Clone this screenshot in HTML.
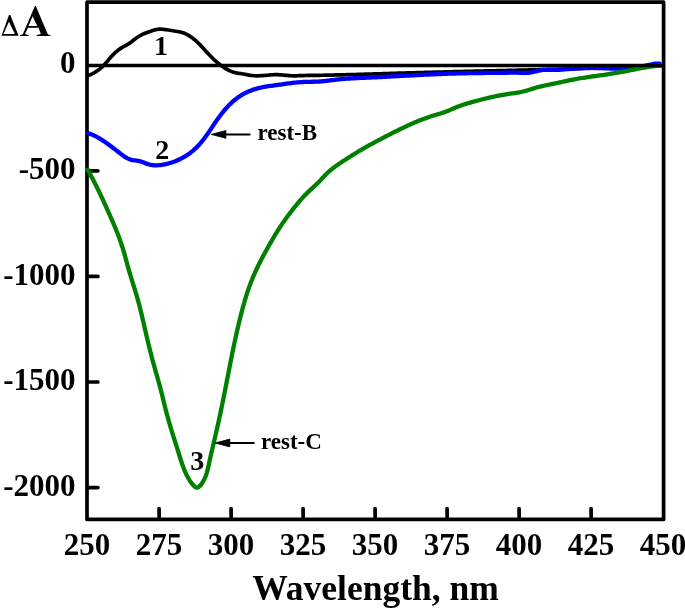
<!DOCTYPE html>
<html><head><meta charset="utf-8"><style>
html,body{margin:0;padding:0;background:#fff;width:685px;height:608px;overflow:hidden}
svg{display:block;will-change:transform}
</style></head><body>
<svg width="685" height="608" viewBox="0 0 685 608">
<line x1="159.1" y1="519" x2="159.1" y2="508.6" stroke="#000" stroke-width="3.7" stroke-linecap="round"/>
<line x1="231.1" y1="519" x2="231.1" y2="508.6" stroke="#000" stroke-width="3.7" stroke-linecap="round"/>
<line x1="303.1" y1="519" x2="303.1" y2="508.6" stroke="#000" stroke-width="3.7" stroke-linecap="round"/>
<line x1="375.1" y1="519" x2="375.1" y2="508.6" stroke="#000" stroke-width="3.7" stroke-linecap="round"/>
<line x1="447.1" y1="519" x2="447.1" y2="508.6" stroke="#000" stroke-width="3.7" stroke-linecap="round"/>
<line x1="519.1" y1="519" x2="519.1" y2="508.6" stroke="#000" stroke-width="3.7" stroke-linecap="round"/>
<line x1="591.1" y1="519" x2="591.1" y2="508.6" stroke="#000" stroke-width="3.7" stroke-linecap="round"/>
<line x1="88" y1="170.8" x2="97.9" y2="170.8" stroke="#000" stroke-width="3.7" stroke-linecap="round"/>
<line x1="88" y1="276.4" x2="97.9" y2="276.4" stroke="#000" stroke-width="3.7" stroke-linecap="round"/>
<line x1="88" y1="382.0" x2="97.9" y2="382.0" stroke="#000" stroke-width="3.7" stroke-linecap="round"/>
<line x1="88" y1="487.6" x2="97.9" y2="487.6" stroke="#000" stroke-width="3.7" stroke-linecap="round"/>
<rect x="87" y="2.2" width="576.6" height="517.2" fill="none" stroke="#000" stroke-width="3.7" stroke-linejoin="round"/>
<path d="M86.49 76.20 L87.97 75.65 L89.41 75.07 L90.81 74.45 L92.18 73.80 L93.51 73.12 L94.81 72.40 L96.07 71.64 L97.29 70.83 L98.48 69.99 L99.63 69.11 L100.75 68.18 L101.84 67.20 L102.89 66.18 L103.92 65.12 L104.92 64.03 L105.91 62.90 L106.89 61.76 L107.87 60.60 L108.85 59.43 L109.85 58.27 L110.87 57.11 L111.92 55.97 L112.99 54.84 L114.09 53.75 L115.22 52.69 L116.36 51.67 L117.52 50.69 L118.70 49.78 L119.89 48.92 L121.08 48.14 L122.29 47.41 L123.49 46.73 L124.71 46.07 L125.93 45.40 L127.16 44.70 L128.39 43.95 L129.63 43.12 L130.88 42.23 L132.14 41.28 L133.41 40.31 L134.68 39.33 L135.96 38.36 L137.25 37.43 L138.55 36.56 L139.86 35.77 L141.18 35.05 L142.50 34.39 L143.84 33.79 L145.18 33.22 L146.54 32.68 L147.91 32.16 L149.29 31.65 L150.68 31.14 L152.09 30.66 L153.50 30.21 L154.93 29.83 L156.38 29.53 L157.83 29.32 L159.30 29.21 L160.79 29.20 L162.28 29.27 L163.78 29.39 L165.28 29.56 L166.79 29.77 L168.30 29.99 L169.81 30.23 L171.31 30.48 L172.82 30.73 L174.31 30.99 L175.80 31.24 L177.28 31.49 L178.74 31.75 L180.19 32.05 L181.62 32.40 L183.04 32.82 L184.43 33.32 L185.80 33.91 L187.15 34.58 L188.47 35.31 L189.76 36.11 L191.02 36.96 L192.25 37.85 L193.44 38.77 L194.60 39.72 L195.73 40.70 L196.84 41.70 L197.92 42.72 L198.97 43.77 L200.01 44.82 L201.04 45.90 L202.06 46.98 L203.07 48.07 L204.08 49.17 L205.08 50.28 L206.09 51.39 L207.11 52.50 L208.13 53.60 L209.17 54.70 L210.23 55.80 L211.29 56.89 L212.38 57.96 L213.47 59.02 L214.58 60.07 L215.71 61.09 L216.85 62.10 L218.01 63.08 L219.19 64.04 L220.38 64.97 L221.60 65.87 L222.83 66.74 L224.07 67.57 L225.34 68.37 L226.63 69.13 L227.93 69.84 L229.26 70.51 L230.60 71.11 L231.96 71.65 L233.33 72.12 L234.72 72.52 L236.12 72.84 L237.54 73.10 L238.97 73.32 L240.41 73.53 L241.86 73.74 L243.32 73.97 L244.79 74.24 L246.27 74.52 L247.75 74.81 L249.24 75.09 L250.74 75.33 L252.25 75.53 L253.75 75.67 L255.26 75.76 L256.78 75.80 L258.29 75.80 L259.80 75.77 L261.32 75.70 L262.83 75.60 L264.35 75.49 L265.86 75.35 L267.37 75.22 L268.88 75.08 L270.39 74.96 L271.90 74.84 L273.40 74.76 L274.91 74.70 L276.42 74.68 L277.92 74.71 L279.42 74.78 L280.93 74.88 L282.43 75.01 L283.93 75.16 L285.43 75.30 L286.93 75.45 L288.43 75.58 L289.93 75.69 L291.43 75.77 L292.93 75.81 L294.43 75.81 L295.92 75.78 L297.42 75.73 L298.92 75.68 L300.42 75.62 L301.91 75.57 L303.41 75.53 L304.90 75.50 L306.40 75.47 L307.90 75.44 L309.39 75.42 L310.89 75.40 L312.38 75.38 L313.88 75.37 L315.38 75.35 L316.87 75.33 L318.37 75.31 L319.86 75.28 L321.36 75.26 L322.86 75.24 L324.35 75.21 L325.85 75.18 L327.35 75.16 L328.84 75.13 L330.34 75.10 L331.84 75.07 L333.34 75.04 L334.83 75.00 L336.33 74.97 L337.83 74.94 L339.33 74.90 L340.82 74.87 L342.32 74.83 L343.82 74.80 L345.32 74.76 L346.81 74.72 L348.31 74.68 L349.81 74.64 L351.31 74.60 L352.81 74.56 L354.31 74.52 L355.80 74.48 L357.30 74.44 L358.80 74.40 L360.30 74.36 L361.80 74.31 L363.30 74.27 L364.80 74.22 L366.30 74.18 L367.80 74.14 L369.30 74.09 L370.79 74.05 L372.29 74.00 L373.79 73.96 L375.29 73.91 L376.79 73.86 L378.29 73.82 L379.79 73.77 L381.29 73.73 L382.79 73.68 L384.29 73.63 L385.79 73.59 L387.29 73.54 L388.79 73.50 L390.29 73.45 L391.79 73.40 L393.29 73.36 L394.79 73.31 L396.29 73.27 L397.79 73.22 L399.29 73.18 L400.80 73.13 L402.30 73.09 L403.80 73.04 L405.30 73.00 L406.80 72.95 L408.30 72.91 L409.80 72.87 L411.30 72.82 L412.80 72.78 L414.30 72.74 L415.80 72.70 L417.31 72.66 L418.81 72.61 L420.31 72.57 L421.81 72.53 L423.31 72.49 L424.81 72.45 L426.31 72.41 L427.82 72.37 L429.32 72.33 L430.82 72.29 L432.32 72.25 L433.82 72.21 L435.32 72.17 L436.83 72.13 L438.33 72.10 L439.83 72.06 L441.33 72.02 L442.83 71.98 L444.33 71.94 L445.84 71.91 L447.34 71.87 L448.84 71.83 L450.34 71.79 L451.84 71.76 L453.35 71.72 L454.85 71.68 L456.35 71.65 L457.85 71.61 L459.36 71.58 L460.86 71.54 L462.36 71.50 L463.86 71.47 L465.36 71.43 L466.87 71.40 L468.37 71.36 L469.87 71.32 L471.37 71.29 L472.88 71.25 L474.38 71.22 L475.88 71.18 L477.38 71.15 L478.89 71.11 L480.39 71.08 L481.89 71.04 L483.39 71.01 L484.90 70.97 L486.40 70.94 L487.90 70.90 L489.40 70.87 L490.91 70.83 L492.41 70.80 L493.91 70.76 L495.41 70.73 L496.91 70.69 L498.42 70.66 L499.92 70.62 L501.42 70.59 L502.92 70.55 L504.43 70.52 L505.93 70.48 L507.43 70.45 L508.93 70.41 L510.44 70.38 L511.94 70.34 L513.44 70.31 L514.94 70.27 L516.45 70.24 L517.95 70.20 L519.45 70.17 L520.95 70.13 L522.46 70.09 L523.96 70.06 L525.46 70.02 L526.96 69.99 L528.47 69.95 L529.97 69.91 L531.47 69.88 L532.97 69.84 L534.47 69.80 L535.98 69.77 L537.48 69.73 L538.98 69.69 L540.48 69.65 L541.99 69.62 L543.49 69.58 L544.99 69.54 L546.49 69.50 L547.99 69.47 L549.50 69.43 L551.00 69.39 L552.50 69.35 L554.00 69.31 L555.50 69.27 L557.00 69.23 L558.51 69.19 L560.01 69.15 L561.51 69.11 L563.01 69.07 L564.51 69.03 L566.02 68.99 L567.52 68.95 L569.02 68.91 L570.52 68.86 L572.02 68.82 L573.52 68.78 L575.02 68.74 L576.53 68.69 L578.03 68.65 L579.53 68.61 L581.03 68.56 L582.53 68.52 L584.03 68.48 L585.53 68.43 L587.03 68.39 L588.53 68.34 L590.03 68.29 L591.54 68.25 L593.04 68.20 L594.54 68.16 L596.04 68.11 L597.54 68.06 L599.04 68.01 L600.54 67.96 L602.04 67.92 L603.54 67.87 L605.04 67.82 L606.54 67.77 L608.04 67.72 L609.54 67.67 L611.04 67.62 L612.54 67.56 L614.04 67.51 L615.54 67.46 L617.04 67.41 L618.54 67.35 L620.04 67.30 L621.54 67.25 L623.04 67.19 L624.54 67.14 L626.04 67.08 L627.54 67.03 L629.04 66.97 L630.53 66.91 L632.03 66.86 L633.53 66.80 L635.03 66.74 L636.53 66.68 L638.03 66.62 L639.53 66.56 L641.03 66.50 L642.52 66.44 L644.02 66.38 L645.52 66.32 L647.02 66.25 L648.52 66.19 L650.02 66.13 L651.51 66.06 L653.01 66.00 L654.51 65.93 L656.01 65.87 L657.50 65.80 L659.00 65.73 L660.50 65.67 L662.00 65.60" fill="none" stroke="#000" stroke-width="3.7" stroke-linejoin="round" stroke-linecap="butt"/>
<path d="M86.50 132.89 L87.98 133.22 L89.42 133.62 L90.84 134.09 L92.23 134.63 L93.60 135.22 L94.95 135.86 L96.28 136.55 L97.58 137.27 L98.87 138.03 L100.15 138.81 L101.40 139.61 L102.65 140.42 L103.88 141.24 L105.11 142.08 L106.32 142.93 L107.53 143.79 L108.74 144.66 L109.94 145.54 L111.13 146.43 L112.33 147.33 L113.53 148.24 L114.73 149.16 L115.93 150.09 L117.15 151.03 L118.36 151.97 L119.59 152.92 L120.82 153.87 L122.07 154.82 L123.33 155.74 L124.60 156.62 L125.88 157.44 L127.18 158.18 L128.49 158.83 L129.81 159.38 L131.15 159.80 L132.50 160.08 L133.87 160.27 L135.25 160.42 L136.64 160.57 L138.04 160.78 L139.46 161.09 L140.89 161.52 L142.33 162.02 L143.78 162.56 L145.24 163.12 L146.70 163.64 L148.17 164.12 L149.65 164.53 L151.13 164.87 L152.62 165.11 L154.10 165.26 L155.59 165.32 L157.08 165.31 L158.57 165.22 L160.05 165.08 L161.54 164.88 L163.02 164.64 L164.49 164.36 L165.97 164.05 L167.43 163.70 L168.89 163.31 L170.33 162.89 L171.77 162.44 L173.20 161.95 L174.62 161.44 L176.02 160.88 L177.42 160.30 L178.79 159.68 L180.15 159.04 L181.50 158.36 L182.83 157.65 L184.14 156.91 L185.43 156.14 L186.70 155.33 L187.95 154.51 L189.17 153.65 L190.38 152.76 L191.55 151.84 L192.71 150.90 L193.84 149.93 L194.94 148.93 L196.02 147.91 L197.07 146.86 L198.10 145.79 L199.11 144.70 L200.10 143.59 L201.07 142.46 L202.03 141.31 L202.96 140.15 L203.88 138.97 L204.79 137.78 L205.68 136.58 L206.56 135.36 L207.42 134.13 L208.28 132.90 L209.13 131.66 L209.97 130.41 L210.80 129.16 L211.64 127.90 L212.47 126.65 L213.31 125.39 L214.15 124.13 L214.99 122.87 L215.84 121.61 L216.71 120.36 L217.58 119.12 L218.47 117.88 L219.37 116.65 L220.29 115.43 L221.21 114.22 L222.16 113.02 L223.11 111.83 L224.08 110.66 L225.07 109.50 L226.07 108.36 L227.08 107.24 L228.12 106.14 L229.17 105.06 L230.23 104.00 L231.32 102.96 L232.42 101.95 L233.55 100.97 L234.69 100.01 L235.85 99.07 L237.03 98.17 L238.23 97.30 L239.45 96.46 L240.69 95.66 L241.95 94.88 L243.23 94.14 L244.53 93.43 L245.84 92.76 L247.17 92.12 L248.52 91.51 L249.88 90.93 L251.26 90.39 L252.65 89.88 L254.05 89.41 L255.47 88.97 L256.89 88.56 L258.33 88.19 L259.77 87.84 L261.23 87.51 L262.69 87.22 L264.16 86.94 L265.64 86.68 L267.12 86.43 L268.61 86.20 L270.10 85.98 L271.60 85.77 L273.09 85.56 L274.60 85.36 L276.10 85.15 L277.60 84.95 L279.11 84.74 L280.61 84.53 L282.11 84.32 L283.62 84.10 L285.12 83.89 L286.62 83.68 L288.13 83.48 L289.63 83.28 L291.13 83.08 L292.63 82.90 L294.14 82.73 L295.64 82.57 L297.14 82.42 L298.64 82.29 L300.14 82.17 L301.65 82.07 L303.15 82.00 L304.65 81.94 L306.15 81.89 L307.65 81.85 L309.15 81.82 L310.65 81.79 L312.15 81.76 L313.65 81.73 L315.16 81.69 L316.66 81.63 L318.16 81.57 L319.66 81.48 L321.16 81.37 L322.66 81.24 L324.16 81.09 L325.66 80.93 L327.16 80.75 L328.66 80.57 L330.16 80.39 L331.66 80.20 L333.16 80.01 L334.66 79.83 L336.15 79.65 L337.65 79.49 L339.15 79.34 L340.65 79.19 L342.15 79.06 L343.65 78.93 L345.15 78.81 L346.65 78.70 L348.15 78.60 L349.65 78.50 L351.14 78.41 L352.64 78.33 L354.14 78.25 L355.64 78.17 L357.14 78.10 L358.64 78.03 L360.14 77.96 L361.63 77.90 L363.13 77.83 L364.63 77.77 L366.13 77.71 L367.63 77.64 L369.13 77.58 L370.62 77.51 L372.12 77.44 L373.62 77.37 L375.12 77.30 L376.62 77.23 L378.11 77.16 L379.61 77.08 L381.11 77.01 L382.61 76.93 L384.11 76.85 L385.60 76.77 L387.10 76.69 L388.60 76.61 L390.10 76.53 L391.60 76.45 L393.09 76.37 L394.59 76.29 L396.09 76.21 L397.59 76.12 L399.08 76.04 L400.58 75.96 L402.08 75.88 L403.58 75.80 L405.08 75.72 L406.57 75.64 L408.07 75.56 L409.57 75.48 L411.07 75.40 L412.57 75.32 L414.06 75.24 L415.56 75.16 L417.06 75.09 L418.56 75.01 L420.06 74.93 L421.55 74.86 L423.05 74.79 L424.55 74.71 L426.05 74.64 L427.55 74.57 L429.05 74.50 L430.54 74.43 L432.04 74.36 L433.54 74.30 L435.04 74.23 L436.54 74.17 L438.04 74.10 L439.54 74.04 L441.03 73.98 L442.53 73.93 L444.03 73.87 L445.53 73.81 L447.03 73.76 L448.53 73.71 L450.03 73.66 L451.53 73.61 L453.03 73.57 L454.53 73.52 L456.03 73.48 L457.53 73.44 L459.03 73.40 L460.53 73.36 L462.02 73.33 L463.52 73.30 L465.02 73.26 L466.52 73.23 L468.02 73.21 L469.52 73.18 L471.02 73.15 L472.52 73.13 L474.02 73.10 L475.53 73.08 L477.03 73.06 L478.53 73.04 L480.03 73.02 L481.53 73.00 L483.03 72.98 L484.53 72.96 L486.03 72.94 L487.53 72.93 L489.03 72.91 L490.53 72.89 L492.03 72.88 L493.53 72.86 L495.03 72.85 L496.53 72.83 L498.03 72.82 L499.53 72.80 L501.03 72.79 L502.53 72.77 L504.03 72.76 L505.53 72.74 L507.03 72.73 L508.53 72.71 L510.04 72.70 L511.54 72.68 L513.04 72.68 L514.54 72.68 L516.04 72.69 L517.54 72.72 L519.04 72.76 L520.54 72.83 L522.04 72.90 L523.54 72.96 L525.04 72.98 L526.54 72.95 L528.04 72.83 L529.54 72.64 L531.04 72.39 L532.54 72.09 L534.04 71.76 L535.54 71.42 L537.04 71.07 L538.54 70.74 L540.04 70.43 L541.54 70.18 L543.03 69.98 L544.53 69.85 L546.03 69.79 L547.53 69.78 L549.03 69.81 L550.53 69.85 L552.03 69.89 L553.53 69.92 L555.03 69.91 L556.52 69.89 L558.02 69.84 L559.52 69.77 L561.02 69.68 L562.52 69.58 L564.02 69.47 L565.51 69.34 L567.01 69.21 L568.51 69.08 L570.01 68.94 L571.50 68.81 L573.00 68.67 L574.50 68.54 L575.99 68.42 L577.49 68.31 L578.99 68.21 L580.48 68.13 L581.98 68.06 L583.48 68.01 L584.97 67.97 L586.47 67.95 L587.96 67.94 L589.46 67.93 L590.96 67.94 L592.45 67.96 L593.95 67.99 L595.44 68.02 L596.94 68.06 L598.43 68.10 L599.92 68.15 L601.42 68.20 L602.91 68.25 L604.41 68.30 L605.90 68.35 L607.39 68.40 L608.89 68.44 L610.38 68.48 L611.87 68.51 L613.37 68.54 L614.86 68.56 L616.35 68.57 L617.84 68.57 L619.33 68.56 L620.83 68.54 L622.32 68.51 L623.81 68.46 L625.30 68.39 L626.79 68.31 L628.28 68.22 L629.77 68.10 L631.26 67.96 L632.75 67.80 L634.24 67.63 L635.73 67.42 L637.22 67.20 L638.71 66.95 L640.19 66.68 L641.68 66.40 L643.17 66.10 L644.66 65.79 L646.15 65.48 L647.63 65.17 L649.12 64.85 L650.61 64.54 L652.09 64.24 L653.58 63.95 L655.07 63.71 L656.55 63.55 L658.04 63.53 L659.52 63.66 L661.01 64.00" fill="none" stroke="#0000ff" stroke-width="4.3" stroke-linejoin="round" stroke-linecap="butt"/>
<path d="M86.81 167.99 L87.54 169.30 L88.27 170.62 L88.98 171.94 L89.70 173.26 L90.40 174.58 L91.10 175.90 L91.80 177.22 L92.49 178.55 L93.18 179.87 L93.86 181.20 L94.53 182.53 L95.20 183.87 L95.87 185.20 L96.53 186.54 L97.19 187.87 L97.85 189.21 L98.50 190.55 L99.15 191.89 L99.79 193.24 L100.43 194.59 L101.07 195.93 L101.70 197.28 L102.34 198.64 L102.97 199.99 L103.59 201.35 L104.22 202.71 L104.84 204.07 L105.46 205.43 L106.08 206.79 L106.70 208.16 L107.31 209.53 L107.93 210.90 L108.54 212.27 L109.15 213.65 L109.76 215.03 L110.37 216.41 L110.98 217.79 L111.59 219.18 L112.19 220.56 L112.79 221.95 L113.38 223.34 L113.98 224.74 L114.56 226.13 L115.14 227.53 L115.72 228.93 L116.29 230.33 L116.85 231.73 L117.41 233.14 L117.95 234.54 L118.49 235.95 L119.02 237.36 L119.54 238.77 L120.05 240.19 L120.55 241.60 L121.04 243.02 L121.52 244.44 L121.99 245.86 L122.44 247.28 L122.88 248.70 L123.31 250.12 L123.74 251.55 L124.15 252.97 L124.55 254.40 L124.95 255.83 L125.35 257.26 L125.74 258.69 L126.13 260.12 L126.52 261.56 L126.91 262.99 L127.30 264.43 L127.69 265.86 L128.09 267.30 L128.49 268.74 L128.90 270.18 L129.32 271.62 L129.75 273.06 L130.17 274.50 L130.61 275.94 L131.05 277.38 L131.49 278.83 L131.94 280.27 L132.38 281.71 L132.83 283.16 L133.28 284.60 L133.73 286.05 L134.18 287.50 L134.63 288.94 L135.08 290.39 L135.52 291.84 L135.95 293.28 L136.39 294.73 L136.81 296.18 L137.23 297.63 L137.65 299.08 L138.05 300.53 L138.45 301.98 L138.84 303.43 L139.22 304.88 L139.59 306.33 L139.96 307.79 L140.33 309.24 L140.68 310.69 L141.04 312.14 L141.39 313.60 L141.73 315.05 L142.08 316.50 L142.42 317.96 L142.76 319.41 L143.09 320.87 L143.43 322.32 L143.76 323.77 L144.10 325.23 L144.43 326.68 L144.77 328.14 L145.10 329.59 L145.44 331.05 L145.77 332.50 L146.11 333.96 L146.45 335.42 L146.79 336.87 L147.13 338.33 L147.48 339.78 L147.82 341.24 L148.17 342.69 L148.52 344.15 L148.87 345.61 L149.23 347.06 L149.59 348.52 L149.95 349.97 L150.31 351.43 L150.68 352.89 L151.05 354.34 L151.42 355.80 L151.80 357.25 L152.18 358.71 L152.57 360.16 L152.96 361.62 L153.35 363.07 L153.75 364.53 L154.15 365.98 L154.56 367.44 L154.97 368.89 L155.39 370.35 L155.80 371.80 L156.22 373.26 L156.63 374.71 L157.05 376.16 L157.46 377.62 L157.87 379.07 L158.28 380.52 L158.69 381.97 L159.09 383.43 L159.49 384.88 L159.88 386.33 L160.27 387.78 L160.65 389.23 L161.02 390.68 L161.39 392.13 L161.76 393.58 L162.12 395.03 L162.47 396.48 L162.83 397.93 L163.18 399.38 L163.53 400.83 L163.89 402.28 L164.24 403.72 L164.59 405.17 L164.95 406.62 L165.31 408.06 L165.67 409.51 L166.04 410.96 L166.41 412.40 L166.79 413.85 L167.17 415.29 L167.56 416.73 L167.96 418.18 L168.36 419.62 L168.77 421.06 L169.19 422.50 L169.61 423.94 L170.03 425.39 L170.47 426.83 L170.90 428.27 L171.34 429.70 L171.78 431.14 L172.22 432.58 L172.67 434.02 L173.12 435.45 L173.57 436.89 L174.02 438.33 L174.48 439.76 L174.93 441.20 L175.38 442.63 L175.84 444.06 L176.29 445.50 L176.74 446.93 L177.20 448.36 L177.65 449.79 L178.09 451.22 L178.54 452.65 L178.98 454.08 L179.42 455.50 L179.86 456.93 L180.31 458.35 L180.76 459.78 L181.22 461.20 L181.69 462.62 L182.17 464.03 L182.66 465.44 L183.18 466.85 L183.71 468.26 L184.26 469.66 L184.84 471.06 L185.45 472.45 L186.08 473.84 L186.74 475.22 L187.44 476.59 L188.17 477.95 L188.94 479.28 L189.76 480.59 L190.61 481.86 L191.51 483.09 L192.45 484.27 L193.45 485.40 L194.49 486.43 L195.57 487.22 L196.67 487.59 L197.78 487.43 L198.87 486.83 L199.93 485.89 L200.94 484.73 L201.90 483.42 L202.79 482.01 L203.60 480.56 L204.33 479.11 L205.00 477.66 L205.59 476.21 L206.13 474.76 L206.62 473.32 L207.05 471.87 L207.46 470.42 L207.82 468.97 L208.17 467.52 L208.49 466.07 L208.80 464.62 L209.10 463.17 L209.41 461.72 L209.72 460.27 L210.03 458.82 L210.36 457.37 L210.68 455.92 L211.01 454.47 L211.35 453.02 L211.68 451.57 L212.02 450.11 L212.37 448.66 L212.71 447.21 L213.05 445.76 L213.40 444.30 L213.74 442.85 L214.09 441.39 L214.43 439.94 L214.77 438.49 L215.11 437.03 L215.44 435.57 L215.78 434.12 L216.11 432.66 L216.45 431.20 L216.78 429.75 L217.10 428.29 L217.43 426.83 L217.76 425.37 L218.08 423.91 L218.40 422.45 L218.72 420.99 L219.04 419.52 L219.36 418.06 L219.67 416.60 L219.98 415.13 L220.30 413.67 L220.61 412.20 L220.92 410.74 L221.22 409.27 L221.53 407.80 L221.83 406.34 L222.14 404.87 L222.44 403.40 L222.74 401.93 L223.04 400.45 L223.33 398.98 L223.63 397.51 L223.92 396.04 L224.22 394.56 L224.51 393.09 L224.80 391.61 L225.09 390.13 L225.38 388.66 L225.67 387.18 L225.96 385.70 L226.25 384.22 L226.53 382.74 L226.82 381.26 L227.11 379.78 L227.40 378.30 L227.68 376.82 L227.97 375.34 L228.26 373.86 L228.54 372.38 L228.83 370.90 L229.12 369.42 L229.40 367.94 L229.69 366.46 L229.98 364.98 L230.27 363.50 L230.56 362.02 L230.86 360.54 L231.15 359.07 L231.44 357.59 L231.74 356.11 L232.03 354.63 L232.33 353.16 L232.63 351.68 L232.93 350.20 L233.24 348.73 L233.54 347.25 L233.85 345.78 L234.15 344.31 L234.46 342.83 L234.78 341.36 L235.09 339.89 L235.41 338.42 L235.73 336.96 L236.05 335.49 L236.37 334.02 L236.70 332.56 L237.03 331.09 L237.36 329.63 L237.70 328.17 L238.04 326.71 L238.38 325.25 L238.72 323.79 L239.07 322.34 L239.42 320.88 L239.78 319.43 L240.14 317.98 L240.50 316.53 L240.86 315.08 L241.23 313.63 L241.61 312.19 L241.98 310.75 L242.37 309.30 L242.75 307.87 L243.15 306.43 L243.54 304.99 L243.95 303.56 L244.36 302.13 L244.77 300.70 L245.19 299.27 L245.62 297.85 L246.06 296.43 L246.51 295.01 L246.96 293.59 L247.42 292.17 L247.89 290.76 L248.37 289.35 L248.86 287.94 L249.36 286.54 L249.87 285.13 L250.39 283.73 L250.92 282.34 L251.47 280.94 L252.02 279.55 L252.59 278.16 L253.16 276.77 L253.75 275.39 L254.36 274.01 L254.97 272.63 L255.59 271.26 L256.23 269.89 L256.87 268.52 L257.52 267.15 L258.18 265.79 L258.85 264.43 L259.53 263.08 L260.22 261.72 L260.91 260.38 L261.61 259.03 L262.31 257.69 L263.02 256.35 L263.74 255.02 L264.45 253.69 L265.18 252.36 L265.91 251.03 L266.64 249.71 L267.37 248.40 L268.10 247.09 L268.84 245.78 L269.58 244.47 L270.32 243.17 L271.06 241.88 L271.81 240.58 L272.56 239.29 L273.31 238.01 L274.07 236.73 L274.83 235.45 L275.60 234.18 L276.37 232.91 L277.15 231.65 L277.94 230.38 L278.74 229.13 L279.54 227.87 L280.36 226.63 L281.18 225.38 L282.01 224.14 L282.86 222.90 L283.71 221.67 L284.58 220.44 L285.45 219.21 L286.33 217.99 L287.22 216.78 L288.12 215.56 L289.03 214.35 L289.94 213.15 L290.86 211.95 L291.78 210.75 L292.71 209.56 L293.65 208.37 L294.59 207.18 L295.54 206.00 L296.49 204.83 L297.46 203.67 L298.42 202.51 L299.40 201.36 L300.38 200.22 L301.37 199.10 L302.36 197.98 L303.37 196.88 L304.38 195.79 L305.41 194.71 L306.44 193.66 L307.48 192.61 L308.54 191.59 L309.60 190.58 L310.67 189.59 L311.76 188.61 L312.84 187.64 L313.93 186.66 L315.02 185.67 L316.10 184.66 L317.18 183.63 L318.25 182.57 L319.32 181.47 L320.37 180.34 L321.42 179.20 L322.47 178.05 L323.53 176.90 L324.58 175.76 L325.65 174.65 L326.73 173.56 L327.83 172.52 L328.94 171.51 L330.07 170.54 L331.21 169.59 L332.37 168.68 L333.53 167.79 L334.71 166.92 L335.90 166.06 L337.10 165.22 L338.31 164.38 L339.52 163.56 L340.75 162.73 L341.98 161.91 L343.22 161.08 L344.47 160.26 L345.72 159.44 L346.98 158.63 L348.25 157.82 L349.52 157.01 L350.79 156.20 L352.07 155.40 L353.36 154.60 L354.64 153.81 L355.93 153.02 L357.22 152.24 L358.52 151.47 L359.81 150.70 L361.11 149.93 L362.41 149.17 L363.71 148.42 L365.01 147.67 L366.32 146.93 L367.62 146.19 L368.93 145.46 L370.24 144.73 L371.55 144.01 L372.86 143.29 L374.17 142.58 L375.49 141.86 L376.81 141.16 L378.12 140.45 L379.45 139.75 L380.77 139.05 L382.09 138.35 L383.42 137.66 L384.75 136.97 L386.08 136.28 L387.41 135.59 L388.74 134.91 L390.08 134.23 L391.42 133.55 L392.76 132.87 L394.10 132.20 L395.45 131.53 L396.79 130.86 L398.14 130.20 L399.49 129.54 L400.85 128.88 L402.20 128.22 L403.56 127.57 L404.92 126.93 L406.28 126.29 L407.65 125.65 L409.01 125.02 L410.38 124.40 L411.76 123.79 L413.13 123.18 L414.51 122.58 L415.89 122.00 L417.27 121.42 L418.65 120.85 L420.04 120.29 L421.43 119.74 L422.82 119.20 L424.21 118.68 L425.61 118.17 L427.01 117.67 L428.41 117.18 L429.82 116.71 L431.23 116.25 L432.64 115.81 L434.05 115.39 L435.47 114.97 L436.88 114.56 L438.30 114.15 L439.73 113.74 L441.15 113.30 L442.57 112.85 L443.99 112.37 L445.42 111.85 L446.84 111.29 L448.27 110.71 L449.69 110.11 L451.11 109.49 L452.53 108.87 L453.94 108.26 L455.36 107.65 L456.77 107.07 L458.18 106.51 L459.58 105.98 L460.99 105.48 L462.39 104.99 L463.79 104.53 L465.20 104.08 L466.60 103.65 L468.01 103.24 L469.42 102.83 L470.84 102.43 L472.26 102.04 L473.68 101.65 L475.12 101.27 L476.55 100.88 L478.00 100.50 L479.45 100.12 L480.91 99.74 L482.37 99.36 L483.83 98.99 L485.30 98.63 L486.77 98.27 L488.25 97.91 L489.73 97.56 L491.21 97.22 L492.69 96.89 L494.17 96.56 L495.65 96.25 L497.13 95.94 L498.61 95.64 L500.09 95.36 L501.57 95.08 L503.05 94.82 L504.53 94.57 L506.00 94.34 L507.47 94.11 L508.94 93.90 L510.40 93.68 L511.86 93.47 L513.32 93.26 L514.78 93.04 L516.24 92.81 L517.69 92.57 L519.15 92.32 L520.60 92.04 L522.05 91.74 L523.50 91.41 L524.95 91.06 L526.40 90.67 L527.85 90.25 L529.30 89.79 L530.76 89.33 L532.21 88.85 L533.66 88.39 L535.11 87.95 L536.57 87.53 L538.02 87.14 L539.48 86.76 L540.93 86.40 L542.39 86.06 L543.85 85.73 L545.31 85.42 L546.77 85.11 L548.23 84.81 L549.69 84.51 L551.15 84.21 L552.62 83.92 L554.08 83.62 L555.55 83.32 L557.01 83.01 L558.48 82.69 L559.95 82.38 L561.41 82.06 L562.88 81.74 L564.35 81.41 L565.82 81.10 L567.29 80.78 L568.76 80.47 L570.23 80.16 L571.71 79.86 L573.18 79.57 L574.65 79.29 L576.13 79.01 L577.60 78.75 L579.08 78.49 L580.55 78.25 L582.03 78.00 L583.50 77.77 L584.98 77.54 L586.46 77.32 L587.94 77.10 L589.42 76.88 L590.89 76.67 L592.37 76.46 L593.85 76.25 L595.33 76.05 L596.81 75.84 L598.29 75.64 L599.77 75.43 L601.25 75.23 L602.73 75.02 L604.21 74.81 L605.70 74.60 L607.18 74.39 L608.66 74.17 L610.14 73.94 L611.62 73.72 L613.11 73.48 L614.59 73.24 L616.07 72.99 L617.55 72.74 L619.04 72.47 L620.52 72.20 L622.00 71.92 L623.48 71.64 L624.97 71.36 L626.45 71.06 L627.93 70.77 L629.42 70.48 L630.90 70.18 L632.38 69.88 L633.86 69.59 L635.35 69.30 L636.83 69.01 L638.31 68.72 L639.79 68.44 L641.27 68.16 L642.76 67.89 L644.24 67.63 L645.72 67.38 L647.20 67.13 L648.68 66.90 L650.16 66.68 L651.64 66.46 L653.12 66.27 L654.60 66.08 L656.08 65.91 L657.56 65.76 L659.04 65.62 L660.52 65.50 L661.99 65.40" fill="none" stroke="#008000" stroke-width="4.3" stroke-linejoin="round" stroke-linecap="butt"/>
<line x1="87" y1="65.55" x2="664" y2="65.55" stroke="#000" stroke-width="3.5"/>
<line x1="224.9" y1="134.4" x2="249.6" y2="134.4" stroke="#000" stroke-width="2" stroke-linecap="round"/><path d="M211.2 134.4 L225.9 130.5 L225.9 138.3 Z" fill="#000" stroke="#000" stroke-width="0.8" stroke-linejoin="round"/>
<line x1="228.8" y1="443" x2="253.8" y2="443" stroke="#000" stroke-width="2" stroke-linecap="round"/><path d="M215.1 443 L229.8 439.1 L229.8 446.9 Z" fill="#000" stroke="#000" stroke-width="0.8" stroke-linejoin="round"/>
<text x="87.1" y="554.8" font-family="Liberation Serif, serif" font-weight="bold" font-size="31" text-anchor="middle" >250</text>
<text x="159.1" y="554.8" font-family="Liberation Serif, serif" font-weight="bold" font-size="31" text-anchor="middle" >275</text>
<text x="231.1" y="554.8" font-family="Liberation Serif, serif" font-weight="bold" font-size="31" text-anchor="middle" >300</text>
<text x="303.1" y="554.8" font-family="Liberation Serif, serif" font-weight="bold" font-size="31" text-anchor="middle" >325</text>
<text x="375.1" y="554.8" font-family="Liberation Serif, serif" font-weight="bold" font-size="31" text-anchor="middle" >350</text>
<text x="447.1" y="554.8" font-family="Liberation Serif, serif" font-weight="bold" font-size="31" text-anchor="middle" >375</text>
<text x="519.1" y="554.8" font-family="Liberation Serif, serif" font-weight="bold" font-size="31" text-anchor="middle" >400</text>
<text x="591.1" y="554.8" font-family="Liberation Serif, serif" font-weight="bold" font-size="31" text-anchor="middle" >425</text>
<text x="663.1" y="554.8" font-family="Liberation Serif, serif" font-weight="bold" font-size="31" text-anchor="middle" >450</text>
<text x="75.6" y="73.3" font-family="Liberation Serif, serif" font-weight="bold" font-size="31" text-anchor="end" >0</text>
<text x="75.6" y="178.9" font-family="Liberation Serif, serif" font-weight="bold" font-size="31" text-anchor="end" >-500</text>
<text x="75.6" y="284.5" font-family="Liberation Serif, serif" font-weight="bold" font-size="31" text-anchor="end" >-1000</text>
<text x="75.6" y="390.1" font-family="Liberation Serif, serif" font-weight="bold" font-size="31" text-anchor="end" >-1500</text>
<text x="75.6" y="495.7" font-family="Liberation Serif, serif" font-weight="bold" font-size="31" text-anchor="end" >-2000</text>
<text x="375.6" y="599.9" font-family="Liberation Serif, serif" font-weight="bold" font-size="35.5" text-anchor="middle" >Wavelength, nm</text>
<text x="161.0" y="55.0" font-family="Liberation Serif, serif" font-weight="bold" font-size="28" text-anchor="middle" >1</text>
<text x="162.2" y="159.2" font-family="Liberation Serif, serif" font-weight="bold" font-size="28" text-anchor="middle" >2</text>
<text x="197.2" y="470.2" font-family="Liberation Serif, serif" font-weight="bold" font-size="28" text-anchor="middle" >3</text>
<text x="257.5" y="139.9" font-family="Liberation Serif, serif" font-weight="bold" font-size="23" text-anchor="start" >rest-B</text>
<text x="261.0" y="448.7" font-family="Liberation Serif, serif" font-weight="bold" font-size="23" text-anchor="start" >rest-C</text>
<path fill-rule="evenodd" fill="#000" d="M9.0 15.0 L10.3 15.0 L18.6 35.7 L1.5 35.7 Z M8.9 21.7 L3.5 34.1 L14.9 34.1 Z"/>
<path fill-rule="evenodd" fill="#000" d="M34.9 6.0 L35.8 6.0 L47.7 33.9 Q48.4 34.8 50.4 34.9 L50.4 35.9 L36.6 35.9 L36.6 34.9 Q39.9 34.8 40.8 34.0 L38.6 27.7 L28.0 27.7 L25.0 34.0 Q25.5 34.8 28.5 34.9 L28.5 35.9 L20.2 35.9 L20.2 34.9 Q22.0 34.8 22.9 33.9 Z M32.6 16.2 L28.5 25.9 L37.2 25.9 Z"/>
</svg>
</body></html>
